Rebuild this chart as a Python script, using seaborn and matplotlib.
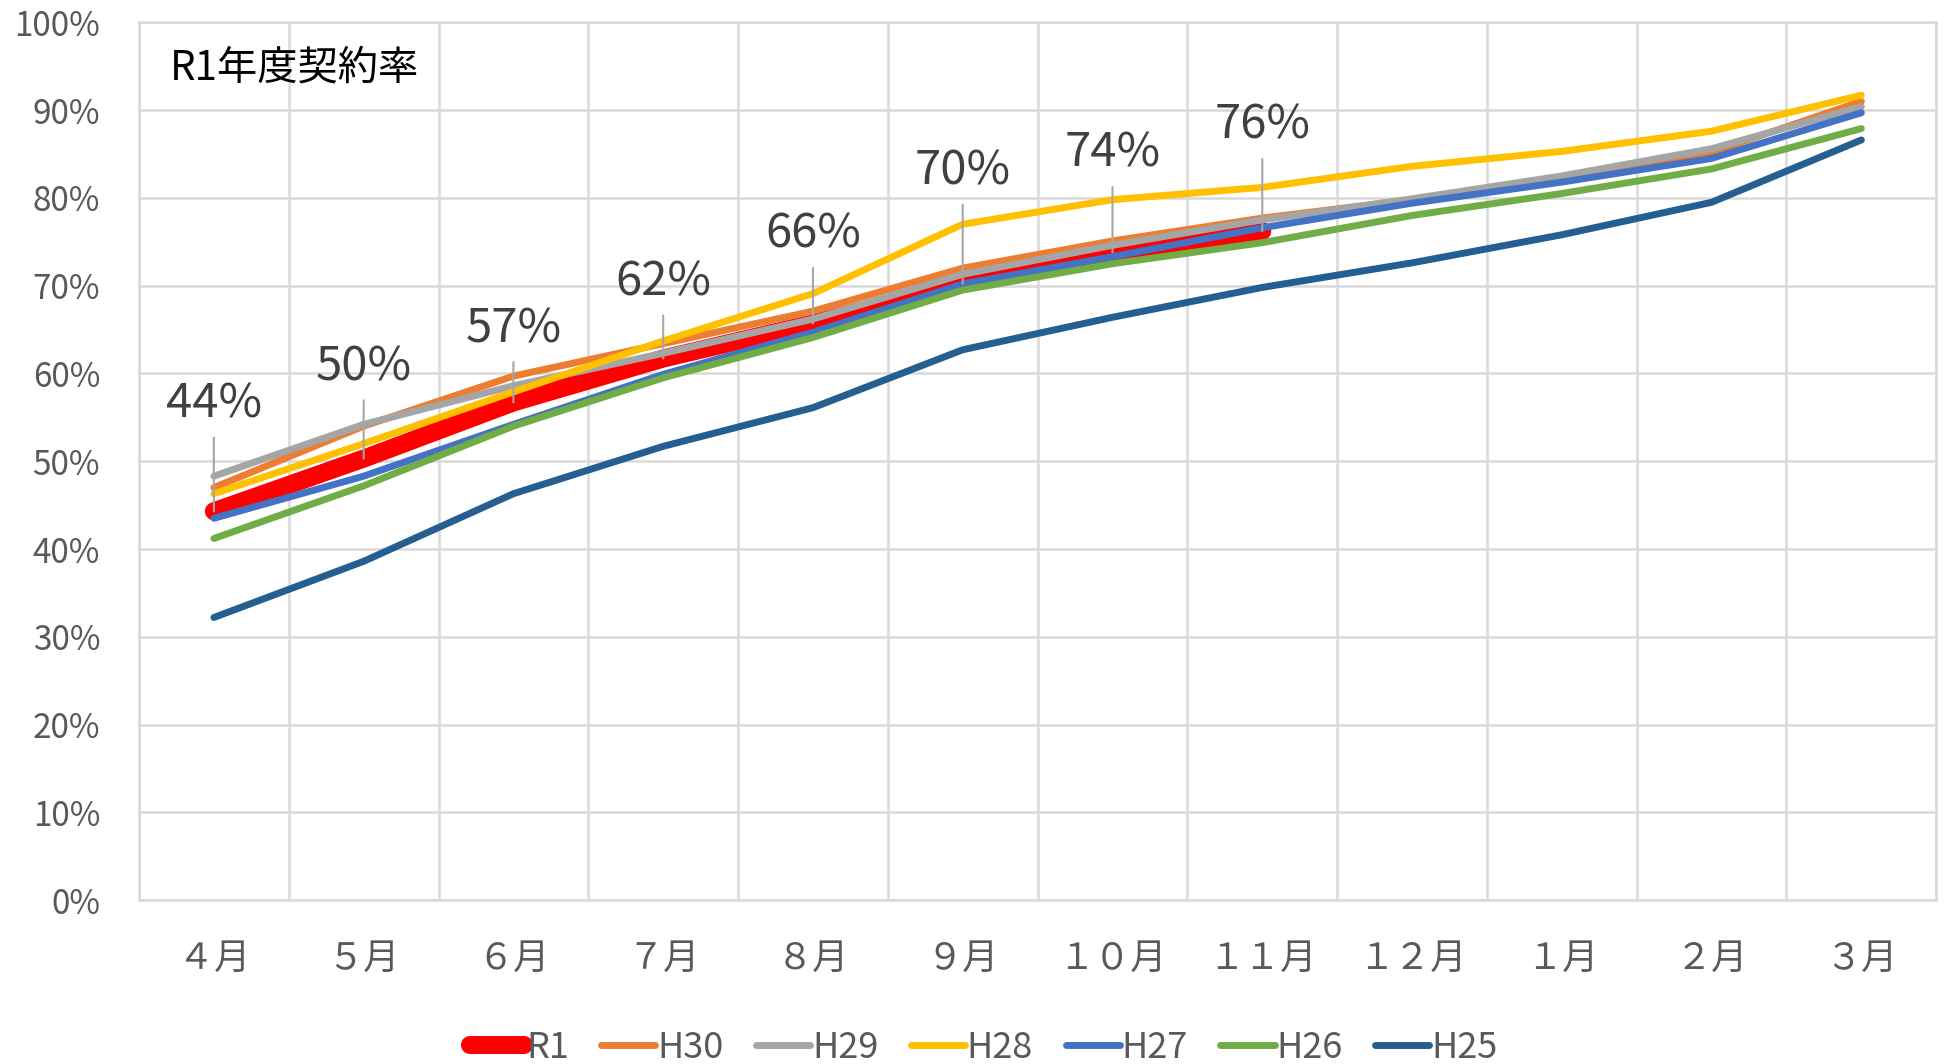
import numpy as np
import pandas as pd
import matplotlib
matplotlib.use("Agg")
import matplotlib.pyplot as plt
from matplotlib.ticker import PercentFormatter, MultipleLocator
import seaborn as sns

sns.set_style("white")
plt.rcParams['font.family'] = ['Noto Sans CJK JP', 'DejaVu Sans']
plt.rcParams['axes.unicode_minus'] = False

# Data
months = ['４月', '５月', '６月', '７月', '８月', '９月', '１０月', '１１月', '１２月', '１月', '２月', '３月']
r1 = [0.443, 0.503, 0.567, 0.617, 0.657, 0.702, 0.738, 0.762]
h30 = [0.470, 0.540, 0.597, 0.634, 0.671, 0.720, 0.751, 0.777, 0.798, 0.821, 0.852, 0.910]
h29 = [0.483, 0.542, 0.586, 0.623, 0.662, 0.713, 0.746, 0.775, 0.799, 0.825, 0.856, 0.904]
h28 = [0.463, 0.520, 0.579, 0.637, 0.691, 0.770, 0.798, 0.812, 0.836, 0.853, 0.876, 0.917]
h27 = [0.435, 0.483, 0.542, 0.599, 0.647, 0.702, 0.733, 0.766, 0.794, 0.818, 0.845, 0.897]
h26 = [0.412, 0.472, 0.540, 0.595, 0.641, 0.695, 0.725, 0.749, 0.780, 0.805, 0.833, 0.879]
h25 = [0.322, 0.386, 0.463, 0.517, 0.561, 0.627, 0.664, 0.698, 0.726, 0.758, 0.795, 0.866]
r1_labels = ['44%', '50%', '57%', '62%', '66%', '70%', '74%', '76%']

series = {'R1': r1, 'H30': h30, 'H29': h29, 'H28': h28, 'H27': h27, 'H26': h26, 'H25': h25}
colors = {'R1': '#ff0000', 'H30': '#ed7d31', 'H29': '#a5a5a5', 'H28': '#ffc000',
          'H27': '#4472c4', 'H26': '#70ad47', 'H25': '#255e91'}
widths = {'R1': 13, 'H30': 5, 'H29': 5, 'H28': 5, 'H27': 5, 'H26': 5, 'H25': 5}

rows = []
for name, vals in series.items():
    for i, v in enumerate(vals):
        rows.append({'series': name, 'month': i, 'rate': v})
df = pd.DataFrame(rows)

# ラベル位置（点からの高さ, pt）
label_offsets = [77, 66, 53, 55, 64, 81, 71, 76]

fig = plt.figure(figsize=(19.44, 10.64), dpi=100)
ax = fig.add_axes([0.0715, 0.154, 0.9245, 0.825])

grid_c = '#d9d9d9'
for name in series:
    sub = df[df['series'] == name]
    sns.lineplot(data=sub, x='month', y='rate', ax=ax, color=colors[name],
                 linewidth=widths[name], label=name, solid_capstyle='round',
                 solid_joinstyle='round')

# データラベル + 引き出し線
for i, (v, lab, off) in enumerate(zip(r1, r1_labels, label_offsets)):
    ax.annotate('', xy=(i, v), xytext=(0, off - 24), textcoords='offset points',
                arrowprops=dict(arrowstyle='-', color='#a6a6a6', lw=1.5,
                                shrinkA=0, shrinkB=0), zorder=5)
    ax.annotate(lab, xy=(i, v), xytext=(0, off), textcoords='offset points',
                ha='center', va='center', fontsize=34, color='#404040', zorder=6)

ax.set_xlim(-0.5, len(months) - 0.5)
ax.set_ylim(0, 1.0)
ax.yaxis.set_major_locator(MultipleLocator(0.1))
ax.yaxis.set_major_formatter(PercentFormatter(1.0, decimals=0))
ax.set_xticks(range(len(months)))
ax.set_xticklabels(months)
ax.set_xticks(np.arange(-0.5, len(months), 1.0), minor=True)
ax.grid(which='minor', axis='x', color=grid_c, lw=1.8)
ax.grid(which='major', axis='y', color=grid_c, lw=1.8)
ax.set_axisbelow(True)
for s in ax.spines.values():
    s.set_color(grid_c)
    s.set_linewidth(1.8)
ax.tick_params(axis='both', which='both', length=0)
ax.tick_params(axis='y', labelsize=24, labelcolor='#595959', pad=28)
ax.tick_params(axis='x', labelsize=26, labelcolor='#595959', pad=29)
ax.set_xlabel('')
ax.set_ylabel('')

ax.text(0.017, 0.948, 'R1年度契約率', transform=ax.transAxes, fontsize=29,
        color='black', ha='left', va='center')

ax.get_legend().remove()
handles, labels = ax.get_legend_handles_labels()
fig.legend(handles, labels, loc='center', bbox_to_anchor=(0.506, 0.015), ncol=7,
           frameon=False, fontsize=26, handlelength=1.5, handletextpad=0.05,
           columnspacing=0.9, labelcolor='#595959')

fig.savefig('out.png', dpi=100)
